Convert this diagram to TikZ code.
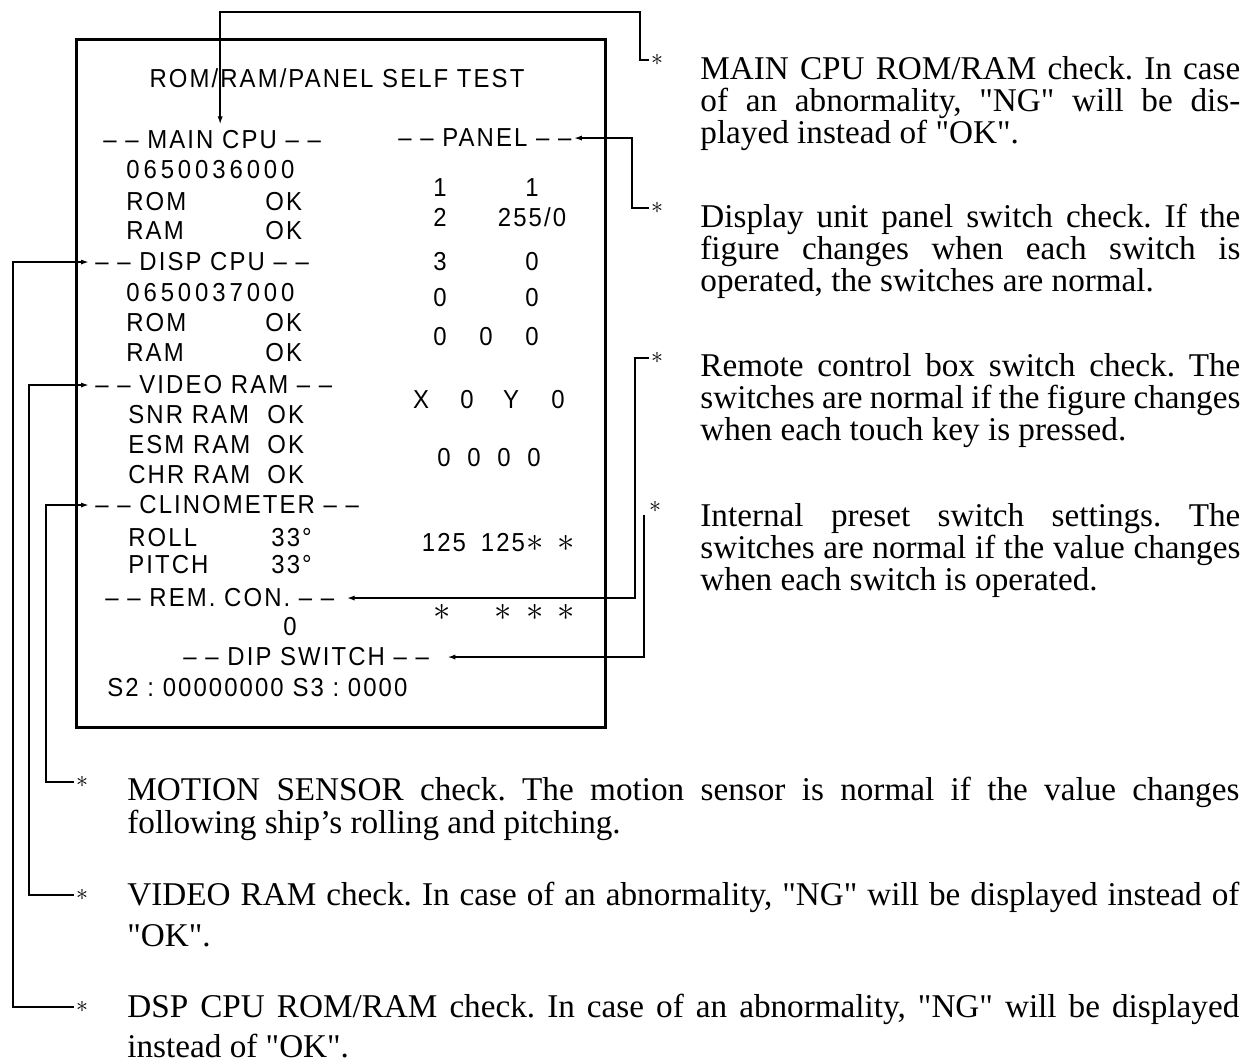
\documentclass[tikz,border=0pt]{standalone}
\usepackage{fontspec}
\setmainfont{Liberation Serif}[Ligatures=TeXOff]
\newfontfamily\scrfont[LetterSpace=8,FakeStretch=0.92]{Liberation Sans}
\usetikzlibrary{arrows.meta}
\frenchspacing
\begin{document}
\begin{tikzpicture}[x=0.5pt,y=-0.5pt,
  scr/.style={font=\scrfont\fontsize{13}{15}\selectfont, inner sep=0pt, anchor=base west},
  scrc/.style={scr, anchor=base},
  wide/.style={font=\scrfont\fontsize{13}{15}\selectfont\addfontfeature{LetterSpace=15}},
  bigast/.style={inner sep=0pt, font=\fontsize{17}{17}\selectfont},
  ser/.style={font=\fontsize{16.6}{17}\selectfont, inner sep=0pt, anchor=base west},
  ast/.style={inner sep=1pt, font=\fontsize{12}{12}\selectfont},
  conn/.style={line width=0.8pt, -{Latex[length=4pt,width=2.6pt]}, shorten >=3pt},
  frame/.style={line width=1.5pt}]
\useasboundingbox (0,0) rectangle (1255,1064);

% screen frame
\draw[frame] (76,40) rectangle (605,727);

% title
\node[scrc] (title) at (337,88) {ROM/RAM/PANEL SELF TEST};

% left column
\node[scr] (mcpu) at (103,149) {– – MAIN CPU – –};
\node[scr, wide] (n1) at (126,179) {0650036000};
\node[scr] (rom1) at (126,211) {ROM};
\node[scr] (ok1) at (265,211) {OK};
\node[scr] (ram1) at (126,240) {RAM};
\node[scr] (ok2) at (265,240) {OK};
\node[scr] (disp) at (95,271) {– – DISP CPU – –};
\node[scr, wide] (n2) at (126,302) {0650037000};
\node[scr] (rom2) at (126,332) {ROM};
\node[scr] (ok3) at (265,332) {OK};
\node[scr] (ram2) at (126,362) {RAM};
\node[scr] (ok4) at (265,362) {OK};
\node[scr] (video) at (95,394) {– – VIDEO RAM – –};
\node[scr] (snr) at (128,424) {SNR RAM};
\node[scr] (ok5) at (267,424) {OK};
\node[scr] (esm) at (128,454) {ESM RAM};
\node[scr] (ok6) at (267,454) {OK};
\node[scr] (chr) at (128,484) {CHR RAM};
\node[scr] (ok7) at (267,484) {OK};
\node[scr] (clino) at (95,514) {– – CLINOMETER – –};
\node[scr] (roll) at (128,546) {ROLL};
\node[scr] (r33) at (271,546) {33°};
\node[scr] (pitch) at (128,574) {PITCH};
\node[scr] (p33) at (271,574) {33°};
\node[scr] (remcon) at (105,607) {– – REM. CON. – –};
\node[scrc] (zero) at (290,636) {0};
\node[scr] (dip) at (183,666) {– – DIP SWITCH – –};
\node[scr] (sw) at (107,697) {S2 : 00000000 S3 : 0000};

% right column
\node[scr] (panel) at (398,147) {– – PANEL – –};
\node[scrc] (p1a) at (440,197) {1};
\node[scrc] (p1b) at (532,197) {1};
\node[scrc] (p2a) at (440,227) {2};
\node[scrc] (p2b) at (532,227) {255/0};
\node[scrc] (p3a) at (440,271) {3};
\node[scrc] (p3b) at (532,271) {0};
\node[scrc] (p4a) at (440,307) {0};
\node[scrc] (p4b) at (532,307) {0};
\node[scrc] (p5a) at (440,346) {0};
\node[scrc] (p5b) at (486,346) {0};
\node[scrc] (p5c) at (532,346) {0};
\node[scrc] (xa) at (421,409) {X};
\node[scrc] (xb) at (467,409) {0};
\node[scrc] (xc) at (511,409) {Y};
\node[scrc] (xd) at (558,409) {0};
\node[scrc] (qa) at (444,467) {0};
\node[scrc] (qb) at (474,467) {0};
\node[scrc] (qc) at (504,467) {0};
\node[scrc] (qd) at (534,467) {0};
\node[scrc] (ta) at (444,552) {125};
\node[scrc] (tb) at (503,552) {125};
\node[bigast] (tc) at (535,543) {$\ast$};
\node[bigast] (td) at (566,543) {$\ast$};
\node[bigast] (ua) at (442,612) {$\ast$};
\node[bigast] (ub) at (503,612) {$\ast$};
\node[bigast] (uc) at (535,612) {$\ast$};
\node[bigast] (ud) at (566,612) {$\ast$};

% asterisks of the notes
\node[ast] (s1) at (657,60) {$\ast$};
\node[ast] (s2) at (657,208) {$\ast$};
\node[ast] (s3) at (657,358) {$\ast$};
\node[ast] (s4) at (655,507) {$\ast$};
\node[ast] (s5) at (82,782) {$\ast$};
\node[ast] (s6) at (82,895) {$\ast$};
\node[ast] (s7) at (82,1007) {$\ast$};

% right notes
\node[ser] (r1a) at (700,80) {\makebox[270pt][s]{MAIN CPU ROM/RAM check. In case}};
\node[ser] (r1b) at (700,112) {\makebox[270pt][s]{of an abnormality, "NG" will be dis-}};
\node[ser] (r1c) at (700,144) {played instead of "OK".};
\node[ser] (r2a) at (700,228) {\makebox[270pt][s]{Display unit panel switch check. If the}};
\node[ser] (r2b) at (700,260) {\makebox[270pt][s]{figure changes when each switch is}};
\node[ser] (r2c) at (700,292) {operated, the switches are normal.};
\node[ser] (r3a) at (700,377) {\makebox[270pt][s]{Remote control box switch check. The}};
\node[ser] (r3b) at (700,409) {\makebox[270pt][s]{switches are normal if the figure changes}};
\node[ser] (r3c) at (700,441) {when each touch key is pressed.};
\node[ser] (r4a) at (700,527) {\makebox[270pt][s]{Internal preset switch settings. The}};
\node[ser] (r4b) at (700,559) {\makebox[270pt][s]{switches are normal if the value changes}};
\node[ser] (r4c) at (700,591) {when each switch is operated.};

% bottom notes
\node[ser] (b1a) at (127,800) {\makebox[556pt][s]{MOTION SENSOR check. The motion sensor is normal if the value changes}};
\node[ser] (b1b) at (127,833) {following ship’s rolling and pitching.};
\node[ser] (b2a) at (127,905) {\makebox[556pt][s]{VIDEO RAM check. In case of an abnormality, "NG" will be displayed instead of}};
\node[ser] (b2b) at (127,946) {"OK".};
\node[ser] (b3a) at (127,1017) {\makebox[556pt][s]{DSP CPU ROM/RAM check. In case of an abnormality, "NG" will be displayed}};
\node[ser] (b3b) at (127,1057) {instead of "OK".};

% connectors
\draw[conn] (s1.west) -| (640,12) -| ([xshift=4pt]mcpu.north);
\draw[conn, shorten >=1pt] (s2.west) -| (632,170) |- (panel.east);
\draw[conn, shorten >=6pt] (s3.west) -| (635,450) |- (remcon.east);
\draw[conn, shorten >=9pt] (s4.south -| 644,0) -- (644,600) |- (dip.east);
\draw[conn] (s5.west) -| (46,650) |- (clino.west);
\draw[conn] (s6.west) -| (29,650) |- (video.west);
\draw[conn] (s7.west) -| (13,650) |- (disp.west);
\end{tikzpicture}
\end{document}
